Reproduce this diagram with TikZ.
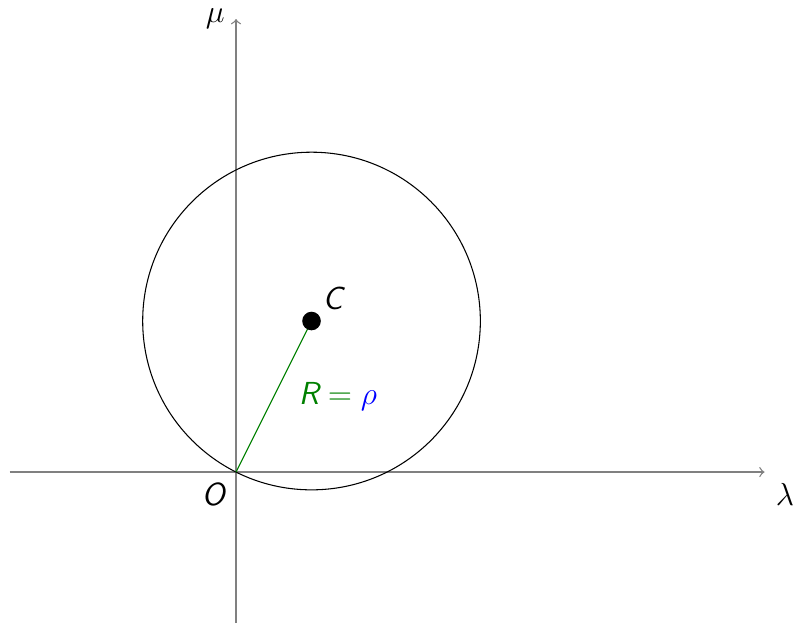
\documentclass[tikz,border=0pt]{standalone}
\begin{document}
\begin{tikzpicture}[x=1cm,y=1cm,
  axis/.style={gray,->,line width=0.5pt},
  lbl/.style={inner sep=4pt,font=\large\sffamily\itshape,text=black}]
\useasboundingbox (-3.126,-2) rectangle (7.377,6.252);
\coordinate (O) at (0,0);
\coordinate (xl) at (-3,0);
\coordinate (xr) at (7,0);
\coordinate (yb) at (0,-2);
\coordinate (yt) at (0,6);
\coordinate (C) at (1,2);
\draw[axis] (xl) -- (xr) node[below right, lbl] {$\lambda$};
\draw[axis] (yb) -- (yt) node[left, lbl] {$\mu$};
\draw (C) circle ({sqrt(5)});
\draw[green!50!black] (O) -- (C);
\fill (C) circle (3.5pt);
\node[above right, lbl] (Clbl) at (C) {C};
\node[below left, lbl] (Olbl) at (O) {O};
\node[lbl] (Rlbl) at (1.35,1) {\color{green!50!black}R\upshape$\;=\;$\color{blue}$\rho$};
\end{tikzpicture}
\end{document}
